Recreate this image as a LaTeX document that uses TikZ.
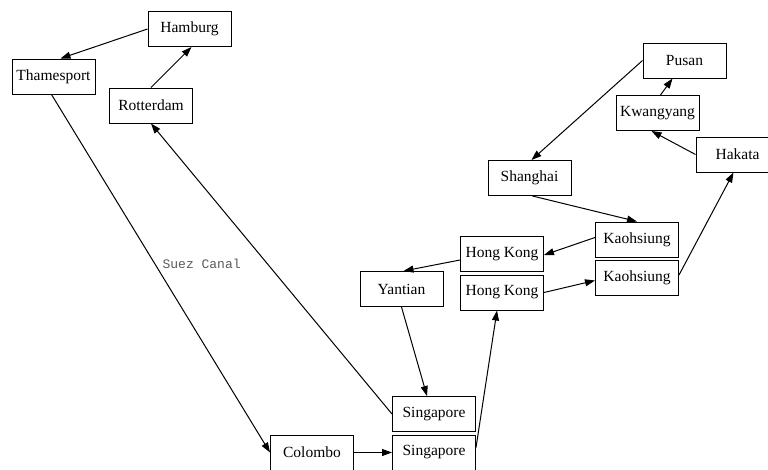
\documentclass[tikz,border=0pt]{standalone}
\usepackage{fontspec}
\setmainfont{Liberation Serif}
\newfontfamily\labelmono{Liberation Mono}
\usetikzlibrary{arrows.meta}
\begin{document}
\begin{tikzpicture}[x=1pt, y=-1pt,
  port/.style={draw, line width=1pt, rectangle, inner sep=0pt,
    minimum width=83pt, minimum height=35pt,
    font=\fontsize{15.5}{18}\selectfont},
  edge/.style={line width=1pt, -{Triangle[length=10pt, width=7pt]}},
  lbl/.style={font=\labelmono\fontsize{13}{15}\selectfont, text=black!65}]
\useasboundingbox (0,0) rectangle (768,469);
\clip (0,0) rectangle (768,469);

% ports of call
\node[port] (hamburg)    at (189.5,29)   {Hamburg};
\node[port] (thamesport) at (53.5,76.5)  {Thamesport};
\node[port] (rotterdam)  at (151,105.5)  {Rotterdam};
\node[port] (pusan)      at (684.5,60.5) {Pusan};
\node[port] (kwangyang)  at (657.5,113)  {Kwangyang};
\node[port] (hakata)     at (737.5,154.5){Hakata};
\node[port] (shanghai)   at (529.5,178)  {Shanghai};
\node[port] (kaohsiung1) at (637,239.5)  {Kaohsiung};
\node[port] (kaohsiung2) at (637,278)    {Kaohsiung};
\node[port] (hongkong1)  at (502,254)    {Hong Kong};
\node[port] (hongkong2)  at (502,292.5)  {Hong Kong};
\node[port] (yantian)    at (401.5,289)  {Yantian};
\node[port] (singapore1) at (434,414)    {Singapore};
\node[port] (singapore2) at (434,452.5)  {Singapore};
\node[port] (colombo)    at (312,452.5)  {Colombo};

% route legs
\draw[edge] (hamburg.west) -- ([xshift=7pt]thamesport.north);
\draw[edge] (rotterdam.north) -- ([xshift=2pt]hamburg.south);
\draw[edge] ([xshift=-2pt]thamesport.south) -- (colombo.west)
  node[lbl, pos=0.472, xshift=47pt] {Suez Canal};
\draw[edge] (singapore1.west) -- (rotterdam.south);
\draw[edge] (colombo.east) -- (singapore2.west);
\draw[edge] ([yshift=5pt]singapore2.east) -- ([xshift=-5pt]hongkong2.south);
\draw[edge] (hongkong2.east) -- ([yshift=-2.5pt]kaohsiung2.west);
\draw[edge] ([yshift=3pt]kaohsiung2.east) -- ([xshift=-4pt]hakata.south);
\draw[edge] (hakata.west) -- ([xshift=-6pt]kwangyang.south);
\draw[edge] ([xshift=3pt]kwangyang.north) -- ([xshift=-12pt]pusan.south);
\draw[edge] (pusan.west) -- ([xshift=2pt]shanghai.north);
\draw[edge] ([xshift=3pt]shanghai.south) -- (kaohsiung1.north);
\draw[edge] ([yshift=2pt]kaohsiung1.west) -- ([yshift=-1pt]hongkong1.east);
\draw[edge] ([yshift=-6pt]hongkong1.west) -- ([xshift=2pt]yantian.north);
\draw[edge] (yantian.south) -- ([xshift=-7pt]singapore1.north);
\end{tikzpicture}
\end{document}
